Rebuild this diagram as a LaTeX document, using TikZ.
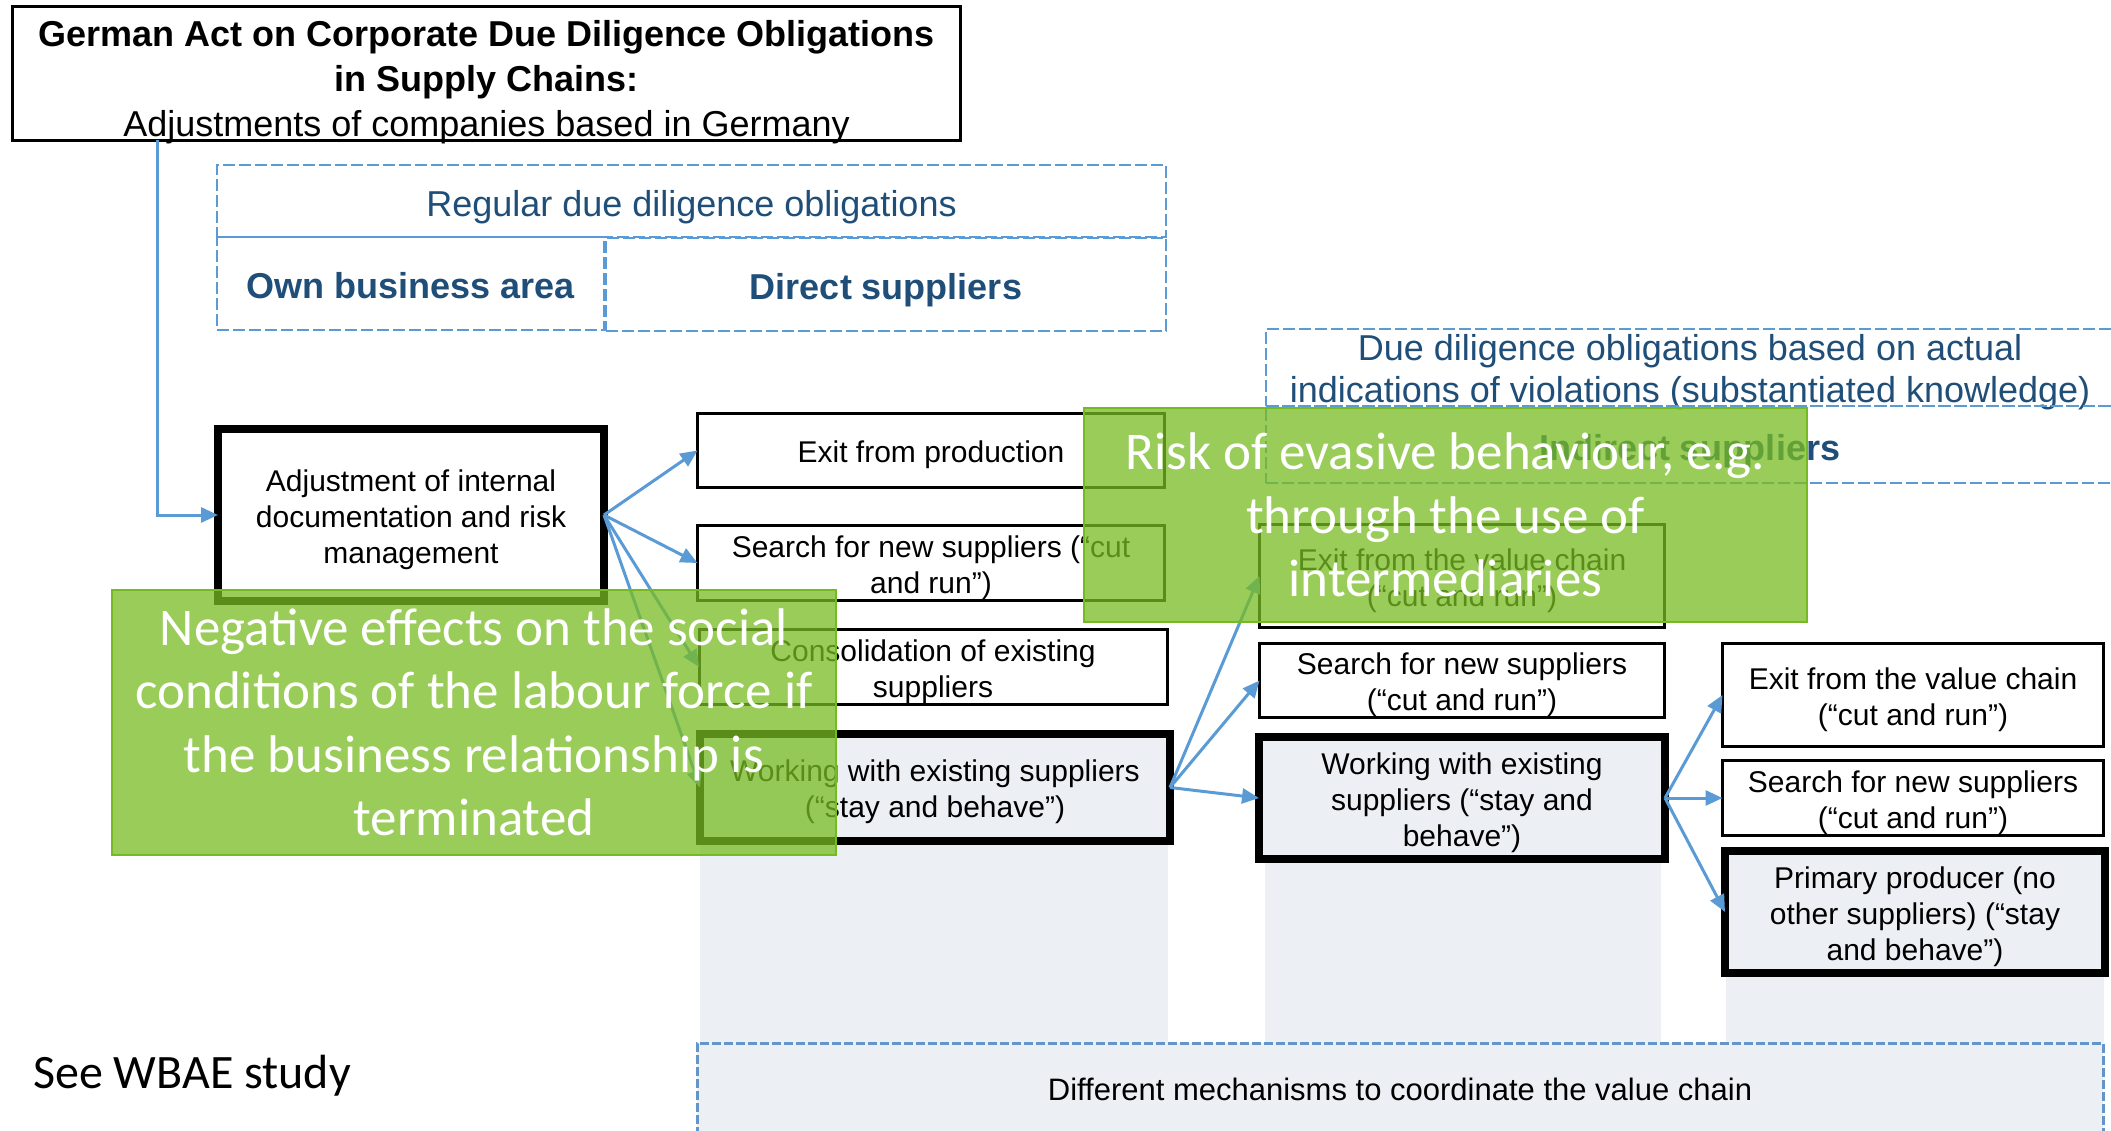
\documentclass[tikz,border=0pt]{standalone}
\usepackage{fontspec}
\setmainfont{Liberation Sans}
\newfontfamily\calfont{Carlito}
\usetikzlibrary{arrows.meta}
\definecolor{dashblue}{RGB}{91,155,213}
\definecolor{textblue}{RGB}{31,78,121}
\definecolor{grayfill}{RGB}{236,240,245}
\definecolor{bottomdash}{RGB}{100,149,200}
\definecolor{greenfill}{RGB}{121,188,35}
\definecolor{greenline}{RGB}{118,186,34}
% struts to place text as the reference does
\newcommand\tsA{\rule{0pt}{31pt}}
\newcommand\bsA{\rule[-5pt]{0pt}{0pt}}
\newcommand\tsD{\rule{0pt}{39pt}}
\newcommand\bsD{\rule[-8pt]{0pt}{0pt}}
\tikzset{
  plainbox/.style={draw=black, line width=3pt, fill=white, inner sep=0pt, outer sep=0pt, align=center,
    font=\fontsize{30}{36}\selectfont},
  thickbox/.style={plainbox, line width=8pt, fill=grayfill},
  titlebox/.style={draw=black, line width=3pt, fill=white, inner sep=0pt, outer sep=0pt},
  titletext/.style={inner sep=0pt, align=center, font=\fontsize{36}{45}\selectfont},
  dashbox/.style={draw=dashblue, line width=2.5pt, dash pattern=on 12pt off 4pt, inner sep=0pt, outer sep=0pt,
    align=center, text=textblue, font=\fontsize{36}{42}\selectfont},
  dashtext/.style={inner sep=0pt, align=center, text=textblue, font=\fontsize{36}{42}\selectfont},
  boldlabel/.style={font=\bfseries\fontsize{36}{42}\selectfont},
  graycol/.style={fill=grayfill, draw=none},
  bottombox/.style={draw=bottomdash, fill=grayfill, line width=3pt, dash pattern=on 9pt off 3pt, inner sep=0pt,
    outer sep=0pt, align=center, font=\fontsize{31}{37}\selectfont},
  greenbox/.style={fill=greenfill, fill opacity=0.75, draw=greenline, draw opacity=1, line width=2.5pt,
    text opacity=1, text=white, inner sep=0pt, outer sep=0pt, align=center,
    font=\calfont\fontsize{53}{63.5}\selectfont},
  conn/.style={draw=dashblue, line width=3pt, -{Triangle[length=17pt,width=15pt]}},
}
\begin{document}
\begin{tikzpicture}[x=1pt,y=-1pt]
\useasboundingbox (0,0) rectangle (2111,1131);
\fill[white] (0,0) rectangle (2111,1131);

% gray columns
\fill[graycol] (700,787) rectangle (1168,1043);
\fill[graycol] (1265,798) rectangle (1661,1043);
\fill[graycol] (1726,912) rectangle (2104,1043);

% bottom box
\node[bottombox, minimum width=1406pt, minimum height=92pt] (coord) at (1400,1089)
  {Different mechanisms to coordinate the value chain};

% title
\node[titlebox, minimum width=948pt, minimum height=134pt] (title) at (486.5,73.5) {};
\node[titletext] (titlelabel) at (486.5,82.5)
  {\textbf{German Act on Corporate Due Diligence Obligations}\\\textbf{in Supply Chains:}\\Adjustments of companies based in Germany};

% regular due diligence
\node[dashbox, minimum width=949pt, minimum height=72pt] (regular) at (691.5,201)
  {\tsD Regular due diligence obligations\bsD};
\node[dashbox, boldlabel, minimum width=387pt, minimum height=93pt] (own) at (410.5,283.5)
  {\tsD Own business area\bsD};
\node[dashbox, boldlabel, minimum width=560pt, minimum height=93pt] (direct) at (886,284.5)
  {\tsD Direct suppliers\bsD};

% indirect
\node[dashbox, minimum width=848pt, minimum height=77pt] (indtop) at (1690,367.5) {};
\node[dashtext] (indtoplabel) at (1690,372)
  {Due diligence obligations based on actual\\indications of violations (substantiated knowledge)};
\node[dashbox, boldlabel, minimum width=848pt, minimum height=77pt] (indirect) at (1690,444.5)
  {\tsD Indirect suppliers\bsD};

% own business area box
\node[plainbox, line width=8pt, minimum width=386pt, minimum height=172pt] (adj) at (411,515)
  {\tsA Adjustment of internal\\documentation and risk\\management\bsA};

% direct suppliers column
\node[plainbox, minimum width=467pt, minimum height=74pt] (exitprod) at (931,450.5)
  {\tsA Exit from production\bsA};
\node[plainbox, minimum width=467pt, minimum height=75pt] (search1) at (931,563)
  {\tsA Search for new suppliers (“cut\\and run”)\bsA};
\node[plainbox, minimum width=468pt, minimum height=75pt] (consol) at (933,667)
  {\tsA Consolidation of existing\\suppliers\bsA};
\node[thickbox, minimum width=470pt, minimum height=107pt] (work1) at (935,787.5)
  {\tsA Working with existing suppliers\\(“stay and behave”)\bsA};

% indirect suppliers column 2
\node[plainbox, minimum width=405pt, minimum height=103pt] (exit2) at (1462,576)
  {\tsA Exit from the value chain\\(“cut and run”)\bsA};
\node[plainbox, minimum width=405pt, minimum height=74pt] (search2) at (1462,680.5)
  {\tsA Search for new suppliers\\(“cut and run”)\bsA};
\node[thickbox, minimum width=406pt, minimum height=122pt] (work2) at (1462,798)
  {\tsA Working with existing\\suppliers (“stay and\\behave”)\bsA};

% column 3
\node[plainbox, minimum width=381pt, minimum height=103pt] (exit3) at (1913,695)
  {\tsA Exit from the value chain\\(“cut and run”)\bsA};
\node[plainbox, minimum width=381pt, minimum height=75pt] (search3) at (1913,798)
  {\tsA Search for new suppliers\\(“cut and run”)\bsA};
\node[thickbox, minimum width=380pt, minimum height=122pt] (primary) at (1915,912)
  {\tsA Primary producer (no\\other suppliers) (“stay\\and behave”)\bsA};

% connectors
\coordinate (bend) at (157,515);
\draw[conn] (title.south -| bend) -- (bend) -- (adj.west);
\draw[conn] (adj.east) -- (exitprod.west);
\draw[conn] (adj.east) -- (search1.west);
\draw[conn] (adj.east) -- (consol.west);
\draw[conn] (adj.east) -- (work1.west);
\draw[conn] (work1.east) -- (exit2.west);
\draw[conn] (work1.east) -- (search2.west);
\draw[conn] (work1.east) -- (work2.west);
\draw[conn] (work2.east) -- (exit3.west);
\draw[conn] (work2.east) -- (search3.west);
\draw[conn] (work2.east) -- (primary.west);

% green overlays
\node[greenbox, minimum width=724pt, minimum height=265pt] (negative) at (474,722.5)
  {Negative effects on the social\\conditions of the labour force if\\the business relationship is\\terminated};
\node[greenbox, minimum width=723pt, minimum height=214pt] (risk) at (1445.5,515)
  {Risk of evasive behaviour, e.g.\\through the use of\\intermediaries};

% note
\node[font=\calfont\fontsize{48}{56}\selectfont, inner sep=0pt] (wbae) at (192,1076) {See WBAE study};
\end{tikzpicture}
\end{document}
